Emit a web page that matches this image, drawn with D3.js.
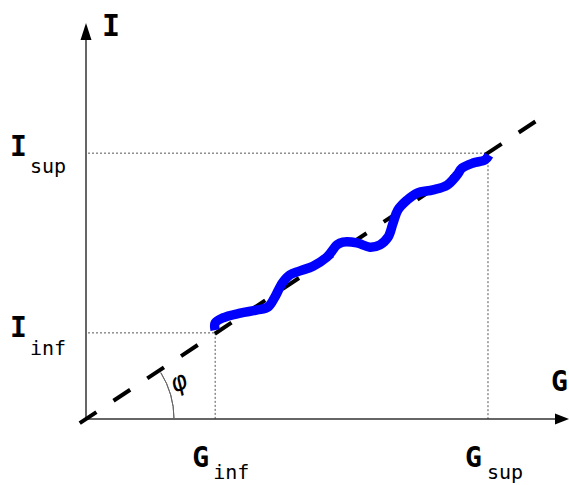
<!DOCTYPE html>
<html>
<head>
<meta charset="utf-8">
<script src="https://cdn.jsdelivr.net/npm/d3@7/dist/d3.min.js"></script>
<style>
  html, body { margin: 0; padding: 0; background: #fff; }
  svg { display: block; }
  text { font-family: "DejaVu Sans Mono", monospace; fill: #000; }
</style>
</head>
<body>
<svg id="chart" width="569" height="485"></svg>
<script>
// Measured current I against conductance G (arbitrary units, 0..100 on each axis)
const curveG = [26.8, 26.8, 28.4, 32.0, 35.5, 37.8, 39.2, 40.7, 42.3, 44.4, 47.1, 50.0, 52.1, 53.3,
                56.2, 58.9, 61.0, 62.7, 63.7, 64.7, 66.6, 68.7, 72.0, 74.9, 77.0, 78.0, 80.3, 82.8, 83.6];
const curveI = [22.5, 24.3, 25.6, 26.8, 27.6, 28.4, 30.9, 34.4, 36.5, 37.5, 38.7, 41.0, 44.1, 44.8,
                44.6, 43.5, 44.1, 46.1, 49.6, 52.9, 55.4, 57.2, 58.0, 59.2, 61.8, 63.5, 64.8, 65.6, 66.8];

// Linear fit I = G·tan(φ), drawn dashed across the plot
const fitG = [-1.3, 94.2];
const fitI = [-1.05, 76.1];

// Interval bounds
const bounds = { Ginf: 26.8, Gsup: 83.4, Iinf: 21.8, Isup: 67.3 };
const axisLabels = ["I", "G"];
const angleLabel = "φ";

const svg = d3.select("#chart");
const x = d3.scaleLinear().domain([0, 100]).range([86, 568]);
const y = d3.scaleLinear().domain([0, 100]).range([419, 24]);

// Reference lines from the bounds to the axes
const dotted = svg.append("g")
  .attr("stroke", "#555").attr("stroke-width", 1).attr("stroke-dasharray", "2,2").attr("fill", "none");
dotted.append("line").attr("x1", x(0) + 2).attr("y1", y(bounds.Iinf)).attr("x2", x(bounds.Ginf)).attr("y2", y(bounds.Iinf));
dotted.append("line").attr("x1", x(bounds.Ginf)).attr("y1", y(bounds.Iinf)).attr("x2", x(bounds.Ginf)).attr("y2", y(0));
dotted.append("line").attr("x1", x(0) + 2).attr("y1", y(bounds.Isup)).attr("x2", x(bounds.Gsup)).attr("y2", y(bounds.Isup));
dotted.append("line").attr("x1", x(bounds.Gsup)).attr("y1", y(bounds.Isup)).attr("x2", x(bounds.Gsup)).attr("y2", y(0));

// Axes with arrow heads
const axes = svg.append("g");
axes.append("line").attr("x1", x(0)).attr("y1", y(0)).attr("x2", x(0)).attr("y2", y(100) + 12)
  .attr("stroke", "#333").attr("stroke-width", 1.5);
axes.append("line").attr("x1", x(0)).attr("y1", y(0)).attr("x2", x(100) - 10).attr("y2", y(0))
  .attr("stroke", "#333").attr("stroke-width", 1.5);
axes.append("path")
  .attr("d", `M${x(0)},${y(100) - 1} L${x(0) - 5.5},${y(100) + 16} L${x(0) + 5.5},${y(100) + 16} Z`)
  .attr("fill", "#000");
axes.append("path")
  .attr("d", `M${x(100) + 1},${y(0)} L${x(100) - 13},${y(0) - 5.5} L${x(100) - 13},${y(0) + 5.5} Z`)
  .attr("fill", "#000");

// Angle arc between the G axis and the fit line
const phi = Math.atan2(y(0) - y(fitI[1]), x(fitG[1]) - x(0));
const arcR = 88;
svg.append("path")
  .attr("transform", `translate(${x(0)},${y(0)})`)
  .attr("d", d3.arc()({ innerRadius: arcR, outerRadius: arcR, startAngle: Math.PI / 2 - phi + 0.03, endAngle: Math.PI / 2 }))
  .attr("fill", "none").attr("stroke", "#666").attr("stroke-width", 1);

// Dashed fit line
svg.append("path")
  .datum(d3.zip(fitG, fitI))
  .attr("d", d3.line().x(d => x(d[0])).y(d => y(d[1])))
  .attr("fill", "none").attr("stroke", "#000").attr("stroke-width", 4)
  .attr("stroke-dasharray", "20,20.5");

// Measured curve
svg.append("path")
  .datum(d3.zip(curveG, curveI))
  .attr("d", d3.line().x(d => x(d[0])).y(d => y(d[1])).curve(d3.curveCatmullRom.alpha(0.5)))
  .attr("fill", "none").attr("stroke", "#0000ff").attr("stroke-width", 9.5)
  .attr("stroke-linejoin", "round").attr("stroke-linecap", "butt");

// Labels
const big = 28, small = 20;
function label(tx, ty, s, size, weight) {
  svg.append("text").attr("x", tx).attr("y", ty).attr("font-size", size)
    .attr("font-weight", weight || "normal").text(s);
}
label(x(0) + 16, 36, axisLabels[0], 30, "bold");
label(x(100) - 17, 391, axisLabels[1], big, "bold");

label(10, y(bounds.Isup) + 3, "I", big, "bold");
label(30, y(bounds.Isup) + 20, "sup", small);
label(10, y(bounds.Iinf) + 4, "I", big, "bold");
label(30, y(bounds.Iinf) + 22, "inf", small);

label(x(bounds.Ginf) - 23, 467, "G", big, "bold");
label(x(bounds.Ginf) - 2, 479, "inf", small);
label(x(bounds.Gsup) - 23, 467, "G", big, "bold");
label(x(bounds.Gsup) - 1, 479, "sup", small);

svg.append("text").attr("x", 0).attr("y", 0)
  .attr("transform", "translate(175,393) rotate(-25)")
  .attr("font-family", "DejaVu Sans").attr("font-style", "italic").attr("font-size", 26)
  .text(angleLabel);
</script>
</body>
</html>
